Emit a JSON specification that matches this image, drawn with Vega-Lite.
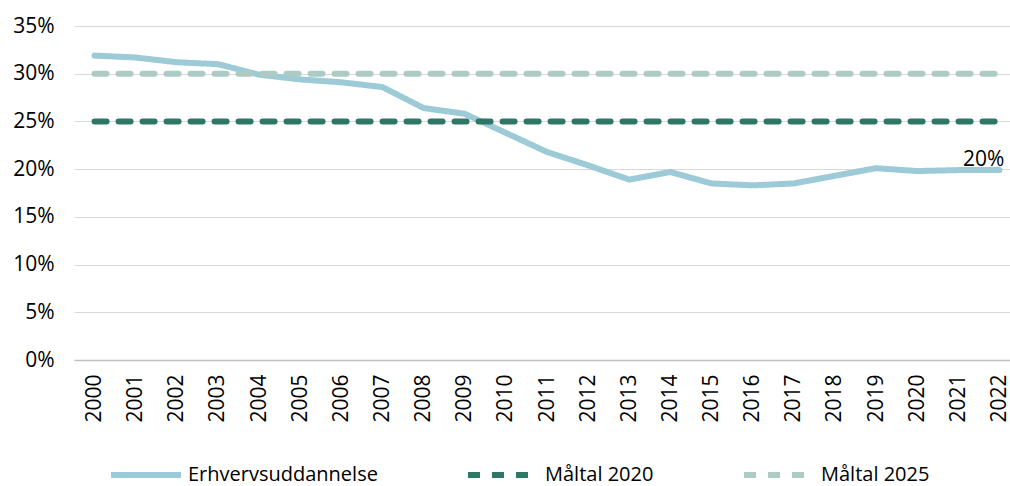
{
  "$schema": "https://vega.github.io/schema/vega-lite/v6.json",
  "width": 946,
  "height": 334,
  "autosize": {"type": "none"},
  "padding": {"left": 74, "top": 26, "right": 0, "bottom": 126},
  "background": "white",
  "config": {
    "font": "Open Sans",
    "view": {"stroke": null},
    "axis": {"labelColor": "#000000", "labelFont": "Open Sans", "title": null}
  },
  "data": {
    "values": [
      {"year": "2000", "series": "Erhvervsuddannelse", "value": 0.319},
      {"year": "2001", "series": "Erhvervsuddannelse", "value": 0.317},
      {"year": "2002", "series": "Erhvervsuddannelse", "value": 0.312},
      {"year": "2003", "series": "Erhvervsuddannelse", "value": 0.310},
      {"year": "2004", "series": "Erhvervsuddannelse", "value": 0.299},
      {"year": "2005", "series": "Erhvervsuddannelse", "value": 0.294},
      {"year": "2006", "series": "Erhvervsuddannelse", "value": 0.291},
      {"year": "2007", "series": "Erhvervsuddannelse", "value": 0.286},
      {"year": "2008", "series": "Erhvervsuddannelse", "value": 0.264},
      {"year": "2009", "series": "Erhvervsuddannelse", "value": 0.258},
      {"year": "2010", "series": "Erhvervsuddannelse", "value": 0.238},
      {"year": "2011", "series": "Erhvervsuddannelse", "value": 0.218},
      {"year": "2012", "series": "Erhvervsuddannelse", "value": 0.204},
      {"year": "2013", "series": "Erhvervsuddannelse", "value": 0.189},
      {"year": "2014", "series": "Erhvervsuddannelse", "value": 0.197},
      {"year": "2015", "series": "Erhvervsuddannelse", "value": 0.185},
      {"year": "2016", "series": "Erhvervsuddannelse", "value": 0.183},
      {"year": "2017", "series": "Erhvervsuddannelse", "value": 0.185},
      {"year": "2018", "series": "Erhvervsuddannelse", "value": 0.193},
      {"year": "2019", "series": "Erhvervsuddannelse", "value": 0.201},
      {"year": "2020", "series": "Erhvervsuddannelse", "value": 0.198},
      {"year": "2021", "series": "Erhvervsuddannelse", "value": 0.199},
      {"year": "2022", "series": "Erhvervsuddannelse", "value": 0.199},
      {"year": "2000", "series": "Måltal 2020", "value": 0.25},
      {"year": "2001", "series": "Måltal 2020", "value": 0.25},
      {"year": "2002", "series": "Måltal 2020", "value": 0.25},
      {"year": "2003", "series": "Måltal 2020", "value": 0.25},
      {"year": "2004", "series": "Måltal 2020", "value": 0.25},
      {"year": "2005", "series": "Måltal 2020", "value": 0.25},
      {"year": "2006", "series": "Måltal 2020", "value": 0.25},
      {"year": "2007", "series": "Måltal 2020", "value": 0.25},
      {"year": "2008", "series": "Måltal 2020", "value": 0.25},
      {"year": "2009", "series": "Måltal 2020", "value": 0.25},
      {"year": "2010", "series": "Måltal 2020", "value": 0.25},
      {"year": "2011", "series": "Måltal 2020", "value": 0.25},
      {"year": "2012", "series": "Måltal 2020", "value": 0.25},
      {"year": "2013", "series": "Måltal 2020", "value": 0.25},
      {"year": "2014", "series": "Måltal 2020", "value": 0.25},
      {"year": "2015", "series": "Måltal 2020", "value": 0.25},
      {"year": "2016", "series": "Måltal 2020", "value": 0.25},
      {"year": "2017", "series": "Måltal 2020", "value": 0.25},
      {"year": "2018", "series": "Måltal 2020", "value": 0.25},
      {"year": "2019", "series": "Måltal 2020", "value": 0.25},
      {"year": "2020", "series": "Måltal 2020", "value": 0.25},
      {"year": "2021", "series": "Måltal 2020", "value": 0.25},
      {"year": "2022", "series": "Måltal 2020", "value": 0.25},
      {"year": "2000", "series": "Måltal 2025", "value": 0.30},
      {"year": "2001", "series": "Måltal 2025", "value": 0.30},
      {"year": "2002", "series": "Måltal 2025", "value": 0.30},
      {"year": "2003", "series": "Måltal 2025", "value": 0.30},
      {"year": "2004", "series": "Måltal 2025", "value": 0.30},
      {"year": "2005", "series": "Måltal 2025", "value": 0.30},
      {"year": "2006", "series": "Måltal 2025", "value": 0.30},
      {"year": "2007", "series": "Måltal 2025", "value": 0.30},
      {"year": "2008", "series": "Måltal 2025", "value": 0.30},
      {"year": "2009", "series": "Måltal 2025", "value": 0.30},
      {"year": "2010", "series": "Måltal 2025", "value": 0.30},
      {"year": "2011", "series": "Måltal 2025", "value": 0.30},
      {"year": "2012", "series": "Måltal 2025", "value": 0.30},
      {"year": "2013", "series": "Måltal 2025", "value": 0.30},
      {"year": "2014", "series": "Måltal 2025", "value": 0.30},
      {"year": "2015", "series": "Måltal 2025", "value": 0.30},
      {"year": "2016", "series": "Måltal 2025", "value": 0.30},
      {"year": "2017", "series": "Måltal 2025", "value": 0.30},
      {"year": "2018", "series": "Måltal 2025", "value": 0.30},
      {"year": "2019", "series": "Måltal 2025", "value": 0.30},
      {"year": "2020", "series": "Måltal 2025", "value": 0.30},
      {"year": "2021", "series": "Måltal 2025", "value": 0.30},
      {"year": "2022", "series": "Måltal 2025", "value": 0.30}
    ]
  },
  "layer": [
    {
      "mark": {"type": "line", "strokeWidth": 6, "strokeCap": "round", "strokeJoin": "round"},
      "encoding": {
        "x": {
          "field": "year", "type": "ordinal",
          "scale": {"type": "point", "padding": 0.5},
          "axis": {
            "labelAngle": -90, "labelFontSize": 21, "labelPadding": 14,
            "ticks": false, "domain": true, "domainColor": "#BFBFBF", "domainWidth": 1.5,
            "grid": false
          }
        },
        "y": {
          "field": "value", "type": "quantitative",
          "scale": {"domain": [0, 0.35]},
          "axis": {
            "values": [0, 0.05, 0.1, 0.15, 0.2, 0.25, 0.3, 0.35],
            "format": ".0%", "labelFontSize": 21, "labelPadding": 20,
            "ticks": false, "domain": false,
            "grid": true, "gridColor": "#D9D9D9", "gridWidth": 1
          }
        },
        "color": {
          "field": "series", "type": "nominal",
          "scale": {
            "domain": ["Erhvervsuddannelse", "Måltal 2020", "Måltal 2025"],
            "range": ["#9CCBD7", "#2E7666", "#ADCBC4"]
          },
          "legend": {
            "title": null, "orient": "none", "direction": "horizontal",
            "legendX": 34, "legendY": 411,
            "symbolType": "stroke", "symbolSize": 4900, "symbolStrokeWidth": 6,
            "labelFontSize": 20, "labelColor": "#000000", "labelOffset": 4,
            "columnPadding": 78, "labelLimit": 400
          }
        },
        "strokeDash": {
          "field": "series", "type": "nominal",
          "scale": {
            "domain": ["Erhvervsuddannelse", "Måltal 2020", "Måltal 2025"],
            "range": [[1, 0], [12, 12], [12, 12]]
          },
          "legend": {
            "title": null, "orient": "none", "direction": "horizontal",
            "legendX": 34, "legendY": 411,
            "symbolType": "stroke", "symbolSize": 4900, "symbolStrokeWidth": 6,
            "labelFontSize": 20, "labelColor": "#000000", "labelOffset": 4,
            "columnPadding": 78, "labelLimit": 400
          }
        }
      }
    },
    {
      "transform": [{"filter": "datum.series === 'Erhvervsuddannelse' && datum.year === '2022'"}],
      "mark": {"type": "text", "align": "right", "baseline": "bottom", "dx": 5, "dy": 0, "fontSize": 21, "color": "#000000"},
      "encoding": {
        "x": {"field": "year", "type": "ordinal"},
        "y": {"field": "value", "type": "quantitative"},
        "text": {"field": "value", "type": "quantitative", "format": ".0%"}
      }
    }
  ]
}
